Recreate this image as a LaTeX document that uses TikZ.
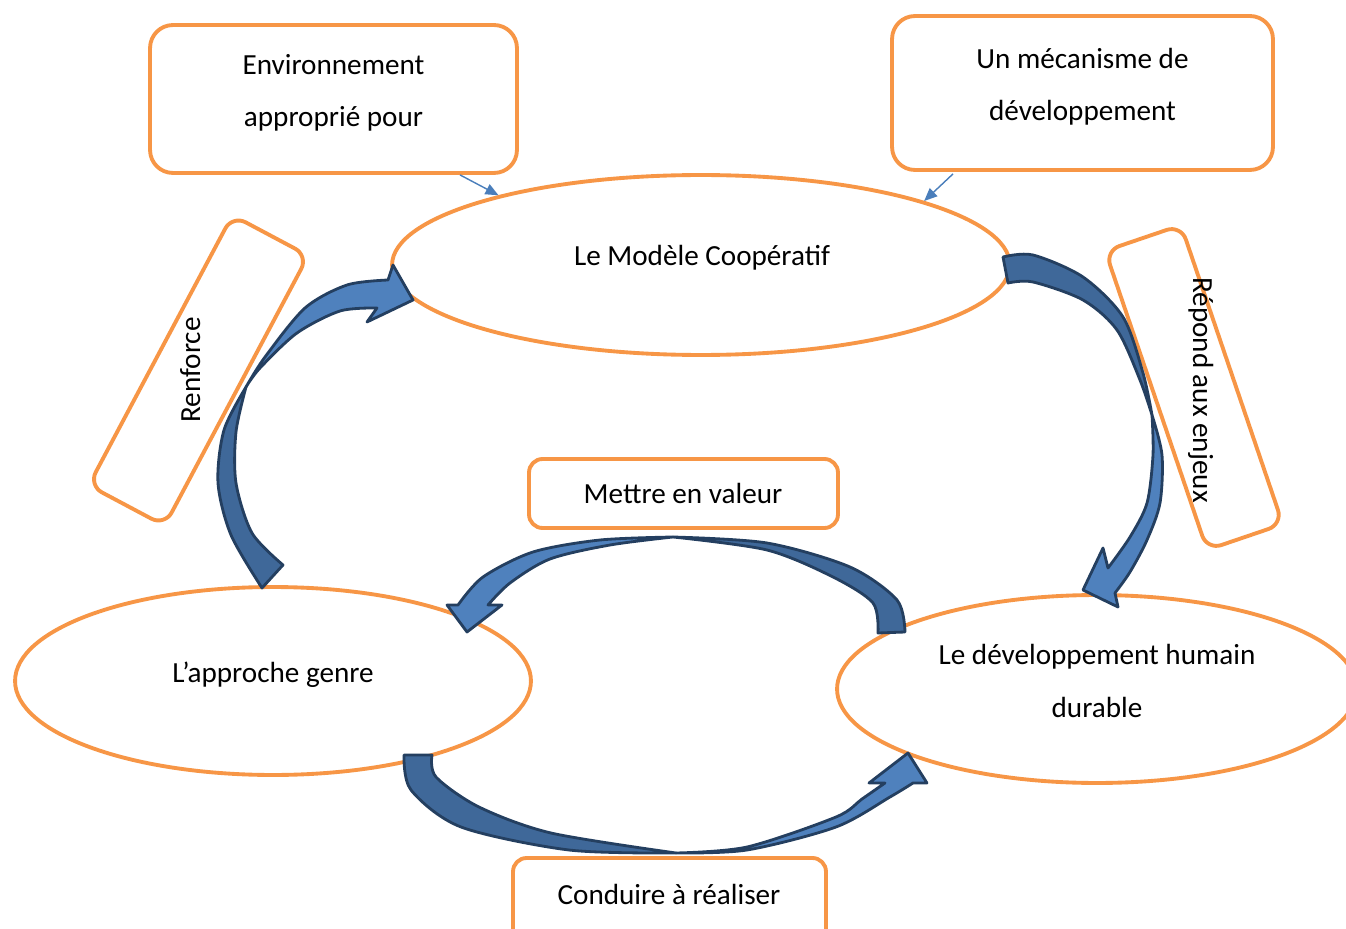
\documentclass[tikz,border=0pt]{standalone}
\usepackage{fontspec}
\setmainfont{Carlito}
\usetikzlibrary{shapes.geometric,arrows.meta,calc}

\definecolor{orng}{HTML}{F79646}
\definecolor{bblue}{HTML}{4F81BD}
\definecolor{bdeep}{HTML}{3F6899}
\definecolor{bline}{HTML}{243F60}
\definecolor{pblue}{HTML}{4A7EBB}

\begin{document}
\begin{tikzpicture}[x=0.02cm, y=-0.02cm, line join=round]
    \tikzstyle{obox}=[draw=orng, fill=white, line width=2.2pt, rounded corners=0.46cm, inner sep=0pt]
    \tikzstyle{oell}=[draw=orng, fill=white, line width=2.2pt, ellipse, inner sep=0pt]
    \tikzstyle{txt}=[font=\fontsize{16.6}{30}\selectfont, inner sep=0pt]
    \tikzstyle{bandd}=[fill=bdeep, draw=bline, line width=1.6pt]
    \tikzstyle{bandl}=[fill=bblue, draw=bline, line width=1.6pt]
    \tikzstyle{parr}=[draw=pblue, line width=0.8pt, -{Triangle[length=0.26cm,width=0.22cm]}]

    \useasboundingbox (0,0) rectangle (1346,929);

    \node[oell, minimum width=12.36cm, minimum height=3.6cm] (coop) at (701,265) {};
    \node[oell, minimum width=10.32cm, minimum height=3.76cm] (appr) at (273,681) {};
    \node[oell, minimum width=10.4cm, minimum height=3.76cm] (dev) at (1097,689) {};

    \node[obox, minimum width=7.34cm, minimum height=2.96cm] (envb) at (333.5,99) {};
    \node[obox, minimum width=7.62cm, minimum height=3.08cm] (mecb) at (1082.5,93) {};
    \node[obox, rounded corners=0.27cm, minimum width=6.18cm, minimum height=1.38cm] (mett) at (683.5,493.5) {};
    \node[obox, rounded corners=0.27cm, minimum width=6.26cm, minimum height=1.74cm] (cond) at (669.5,901.5) {};
    \node[obox, rounded corners=0.3cm, rotate=62, minimum width=6.12cm, minimum height=1.72cm] (renf) at (198.5,370.5) {};
    \node[obox, rounded corners=0.3cm, rotate=-71.2, minimum width=6.32cm, minimum height=1.6cm] (rep) at (1194,387.5) {};

    \foreach \n/\dx/\dy/\r/\t in {coop/1/1/0/Le Modèle Coopératif, appr/0/1/0/L’approche genre,
        mett/-0.5/9.5/0/Mettre en valeur, cond/-0.5/2.5/0/Conduire à réaliser,
        renf/1.5/-0.5/90/Renforce, rep/-1/2.5/-90/Répond aux enjeux} {
        \node[txt, anchor=base, rotate=\r] (t\n) at ($(\n)+(\dx,\dy)$) {\t};
    }
    \foreach \n/\dy/\t in {envb/-6.3/Environnement\\approprié pour,
        mecb/-6.3/Un mécanisme de\\développement, dev/-8/Le développement humain\\durable} {
        \node[txt, align=center] (t\n) at ($(\n)+(0,\dy)$) {\t};
    }

    \draw[parr] ($(envb.south)+(126.5,0)$) -- (coop.161.5);
    \draw[parr] ($(mecb.south)+(-129.5,2)$) -- (coop.16);

    % Renforce
    \filldraw[bandd] plot[smooth] coordinates {(262,588) (231,535) (218,483) (224,430) (246,387)}
        -- plot[smooth] coordinates {(246,387) (236,432) (236,483) (252,533) (283,565)} -- cycle;
    \filldraw[bandl] plot[smooth] coordinates {(246,387) (265,357) (305,308) (347,285) (388,280)}
        -- (393,265) -- (413,300) -- (367,322) -- (377,308)
        -- plot[smooth] coordinates {(377,308) (340,311) (297,333) (260,368) (246,387)} -- cycle;

    % Repond aux enjeux
    \filldraw[bandd] plot[smooth] coordinates {(1003,257) (1033,255) (1083,277) (1123,317) (1143,373) (1152,415)}
        -- plot[smooth] coordinates {(1152,415) (1140,380) (1117,330) (1083,300) (1033,282) (1008,283)} -- cycle;
    \filldraw[bandl] plot[smooth] coordinates {(1152,415) (1162,455) (1160,503) (1147,540) (1130,572) (1115,593)}
        -- (1118,607) -- (1083,590) -- (1103,548) -- (1108,568)
        -- plot[smooth] coordinates {(1108,568) (1130,537) (1147,503) (1153,455) (1152,415)} -- cycle;

    % Conduire
    \filldraw[bandd] plot[smooth] coordinates {(404,755) (411,790) (461,827) (569,850) (676,853)}
        -- plot[smooth] coordinates {(676,853) (551,833) (479,807) (436,777) (432,755)} -- cycle;
    \filldraw[bandl] plot[smooth] coordinates {(676,853) (747,850) (836,827) (890,797) (913,783)}
        -- (927,783) -- (908,753) -- (869,783) -- (885,783)
        -- plot[smooth] coordinates {(885,783) (862,799) (836,817) (747,847) (676,853)} -- cycle;

    % Mettre en valeur
    \filldraw[bandd] plot[smooth] coordinates {(905,632) (897,600) (850,567) (767,543) (673,537)}
        -- plot[smooth] coordinates {(673,537) (767,550) (833,577) (873,603) (878,633)} -- cycle;
    \filldraw[bandl] plot[smooth] coordinates {(673,537) (600,540) (533,552) (483,577) (458,605)}
        -- (447,605) -- (467,632) -- (502,605) -- (488,605)
        -- plot[smooth] coordinates {(488,605) (510,583) (550,559) (610,545) (673,537)} -- cycle;

\end{tikzpicture}
\end{document}
